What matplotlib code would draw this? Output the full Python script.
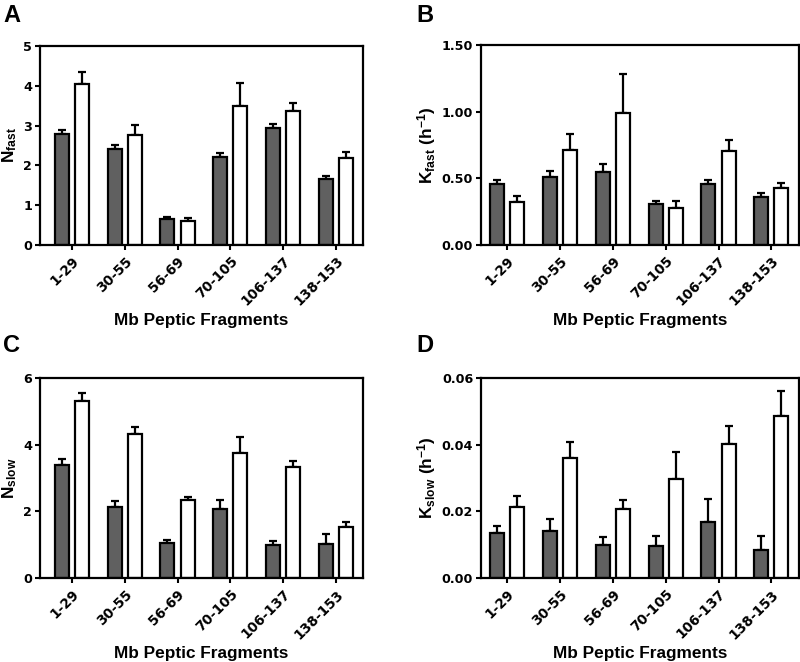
import numpy as np
import matplotlib
matplotlib.use('Agg')
from matplotlib import pyplot as plt

plt.rcParams['mathtext.fontset'] = 'custom'
plt.rcParams['mathtext.rm'] = 'Liberation Sans:bold'
plt.rcParams['mathtext.bf'] = 'Liberation Sans:bold'
plt.rcParams['mathtext.it'] = 'Liberation Sans:bold'

fragments = ['1-29', '30-55', '56-69', '70-105', '106-137', '138-153']

# panel A: N fast
nfast_dark = [2.79, 2.41, 0.66, 2.21, 2.95, 1.66]
nfast_dark_err = [0.11, 0.10, 0.04, 0.09, 0.10, 0.07]
nfast_white = [4.04, 2.77, 0.60, 3.48, 3.36, 2.19]
nfast_white_err = [0.30, 0.25, 0.07, 0.58, 0.20, 0.15]

# panel B: K fast
kfast_dark = [0.457, 0.507, 0.545, 0.307, 0.457, 0.357]
kfast_dark_err = [0.033, 0.051, 0.063, 0.022, 0.033, 0.032]
kfast_white = [0.324, 0.709, 0.992, 0.274, 0.704, 0.430]
kfast_white_err = [0.043, 0.125, 0.289, 0.058, 0.085, 0.035]

# panel C: N slow
nslow_dark = [3.39, 2.12, 1.04, 2.07, 0.99, 1.01]
nslow_dark_err = [0.19, 0.18, 0.11, 0.28, 0.11, 0.30]
nslow_white = [5.31, 4.31, 2.33, 3.74, 3.34, 1.53]
nslow_white_err = [0.25, 0.22, 0.09, 0.48, 0.18, 0.14]

# panel D: K slow
kslow_dark = [0.0135, 0.0141, 0.0099, 0.0095, 0.0167, 0.0085]
kslow_dark_err = [0.0021, 0.0035, 0.0025, 0.0032, 0.0069, 0.0040]
kslow_white = [0.0213, 0.0359, 0.0206, 0.0298, 0.0403, 0.0487]
kslow_white_err = [0.0033, 0.0049, 0.0029, 0.0080, 0.0054, 0.0074]

fig = plt.figure(figsize=(8, 6.62), dpi=100)

DARK = '#606060'
tickfont = dict(family='DejaVu Sans', weight='bold')


def panel(rect, dark, dark_err, white, white_err, ylim, yticks, ytlabels,
          ylabel, letter, xlim, letter_xy, ylabel_x):
    ax = fig.add_axes(rect)
    x = np.arange(len(fragments))
    w = 0.265
    off = 0.19
    ax.bar(x - off, dark, w, color=DARK, edgecolor='black', linewidth=1.6,
           zorder=2)
    ax.bar(x + off, white, w, color='white', edgecolor='black', linewidth=1.6,
           zorder=2)
    zeros = [0] * len(fragments)
    ax.errorbar(x - off, dark, yerr=[zeros, dark_err], fmt='none',
                ecolor='black', elinewidth=1.6, capsize=2.6, capthick=1.6,
                zorder=1)
    ax.errorbar(x + off, white, yerr=[zeros, white_err], fmt='none',
                ecolor='black', elinewidth=1.6, capsize=2.6, capthick=1.6,
                zorder=1)
    ax.set_xlim(*xlim)
    ax.set_ylim(*ylim)
    ax.set_xticks(x)
    ax.set_xticklabels(fragments, rotation=45, ha='right',
                       rotation_mode='anchor', fontsize=9.8, **tickfont)
    ax.set_yticks(yticks)
    ax.set_yticklabels(ytlabels, fontsize=9.2, **tickfont)
    ax.tick_params(axis='both', direction='out', length=3.5, width=1.5,
                   color='black', pad=2)
    ax.tick_params(axis='x', pad=3)
    for s in ax.spines.values():
        s.set_linewidth(1.6)

    # axis labels placed in axes coordinates (pixel offsets from the frame)
    h_px = rect[3] * 662
    w_px = rect[2] * 800
    ax.set_xlabel('Mb Peptic Fragments', family='Liberation Sans',
                  weight='bold', fontsize=12.4)
    ax.xaxis.label.set_va('baseline')
    ax.xaxis.set_label_coords(0.5, -80 / h_px)
    ax.set_ylabel(ylabel, fontsize=12.4)
    ax.yaxis.label.set_va('center')
    ax.yaxis.set_label_coords(ylabel_x / w_px, 0.5)

    fig.text(letter_xy[0], letter_xy[1], letter, family='Liberation Sans',
             weight='bold', fontsize=17, ha='left', va='baseline')
    return ax


panel([0.05, 0.630, 0.404, 0.3005], nfast_dark, nfast_dark_err,
      nfast_white, nfast_white_err, (0, 5), [0, 1, 2, 3, 4, 5],
      ['0', '1', '2', '3', '4', '5'], r'$\mathbf{N_{fast}}$', 'A',
      (-0.6, 5.51), (3 / 800, 1 - 22 / 662), -30)

panel([0.601, 0.630, 0.3975, 0.302], kfast_dark, kfast_dark_err,
      kfast_white, kfast_white_err, (0, 1.5), [0, 0.5, 1.0, 1.5],
      ['0.00', '0.50', '1.00', '1.50'], r'$\mathbf{K_{fast}\ (h^{-1})}$', 'B',
      (-0.5, 5.52), (416 / 800, 1 - 22 / 662), -54)

panel([0.05, 0.1269, 0.404, 0.3021], nslow_dark, nslow_dark_err,
      nslow_white, nslow_white_err, (0, 6), [0, 2, 4, 6],
      ['0', '2', '4', '6'], r'$\mathbf{N_{slow}}$', 'C',
      (-0.6, 5.51), (3 / 800, 1 - 352 / 662), -30)

panel([0.601, 0.1269, 0.3975, 0.3021], kslow_dark, kslow_dark_err,
      kslow_white, kslow_white_err, (0, 0.06), [0, 0.02, 0.04, 0.06],
      ['0.00', '0.02', '0.04', '0.06'], r'$\mathbf{K_{slow}\ (h^{-1})}$', 'D',
      (-0.5, 5.52), (416 / 800, 1 - 352 / 662), -54)

fig.savefig('out.png', dpi=100)
